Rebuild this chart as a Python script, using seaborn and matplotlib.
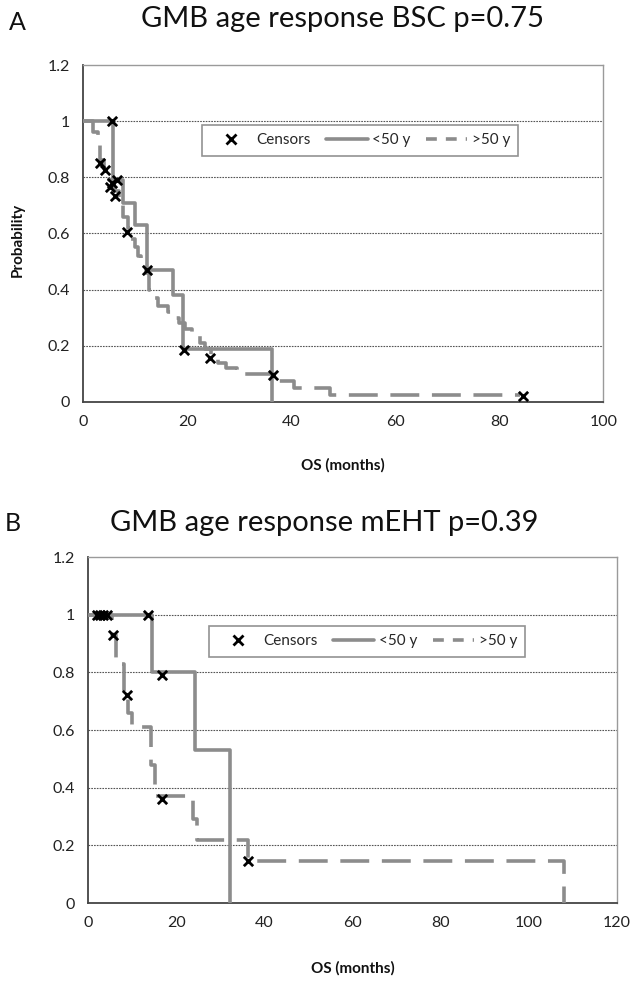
import pandas as pd
import matplotlib
matplotlib.use("Agg")
import matplotlib.pyplot as plt
from matplotlib.lines import Line2D
import seaborn as sns

# Panel A (BSC) - Kaplan-Meier steps
a_lt50_t = [0, 5.8, 7.7, 10.0, 12.3, 17.3, 19.2, 36.3]
a_lt50_p = [1.0, 0.79, 0.71, 0.63, 0.47, 0.38, 0.19, 0.0]

a_gt50_t = [0, 1.9, 2.9, 3.3, 4.0, 5.0, 6.0, 6.9, 7.7, 8.6, 9.2, 10.0, 10.6, 11.2, 12.1,
            12.6, 13.4, 14.4, 16.3, 17.3, 18.4, 19.5, 21.0, 22.5, 23.5, 24.6, 26.0, 27.5,
            29.5, 37.5, 40.5, 47.5, 84.0]
a_gt50_p = [1.0, 0.96, 0.92, 0.86, 0.83, 0.79, 0.75, 0.70, 0.66, 0.62, 0.58, 0.55, 0.52, 0.49, 0.46,
            0.40, 0.37, 0.34, 0.32, 0.30, 0.28, 0.26, 0.24, 0.21, 0.19, 0.16, 0.14, 0.12,
            0.10, 0.075, 0.05, 0.025, 0.025]

a_cens_t = [5.5, 3.3, 4.2, 5.2, 5.5, 6.5, 6.2, 8.4, 12.3, 19.3, 24.4, 36.5, 84.5]
a_cens_p = [1.0, 0.85, 0.825, 0.765, 0.78, 0.79, 0.735, 0.605, 0.47, 0.185, 0.155, 0.095, 0.02]

# Panel B (mEHT)
b_lt50_t = [0, 14.5, 24.3, 32.2]
b_lt50_p = [1.0, 0.80, 0.53, 0.0]

b_gt50_t = [0, 5.4, 6.3, 8.2, 9.1, 10.0, 14.2, 15.2, 23.8, 24.7, 36.2, 108.0]
b_gt50_p = [1.0, 0.93, 0.83, 0.73, 0.66, 0.61, 0.48, 0.37, 0.29, 0.22, 0.145, 0.0]

b_cens_t = [2.0, 2.8, 3.5, 4.3, 13.7, 5.7, 8.8, 16.8, 16.8, 36.3]
b_cens_p = [1.0, 1.0, 1.0, 1.0, 1.0, 0.93, 0.72, 0.79, 0.36, 0.145]

titles = ["GMB age response BSC p=0.75", "GMB age response mEHT p=0.39"]
panel_tags = ["A", "B"]

sns.set_style("white")
plt.rcParams['font.family'] = ['Lato', 'DejaVu Sans']

LINE_C = "#8c8c8c"
DASH = (0, (8, 3.5))

fig = plt.figure(figsize=(6.35, 9.85), dpi=100)
ax_a = fig.add_axes([0.131, 0.592, 0.819, 0.342])
ax_b = fig.add_axes([0.1386, 0.0832, 0.833, 0.3513])


def draw_panel(ax, lt_t, lt_p, gt_t, gt_p, c_t, c_p, xmax):
    df_lt = pd.DataFrame({"t": lt_t, "p": lt_p})
    df_gt = pd.DataFrame({"t": gt_t, "p": gt_p})
    df_c = pd.DataFrame({"t": c_t, "p": c_p})
    sns.lineplot(data=df_gt, x="t", y="p", ax=ax, estimator=None, sort=False,
                 drawstyle="steps-post", color=LINE_C, lw=2.6, linestyle=DASH, zorder=3)
    sns.lineplot(data=df_lt, x="t", y="p", ax=ax, estimator=None, sort=False,
                 drawstyle="steps-post", color=LINE_C, lw=2.6, zorder=3)
    sns.scatterplot(data=df_c, x="t", y="p", ax=ax, marker="x", color="black",
                    s=45, linewidth=2, zorder=4)
    ax.set_xlim(0, xmax)
    ax.set_ylim(0, 1.2)
    ax.set_xticks(range(0, xmax + 1, 20))
    ax.set_yticks([0, 0.2, 0.4, 0.6, 0.8, 1.0, 1.2])
    ax.set_yticklabels(["0", "0.2", "0.4", "0.6", "0.8", "1", "1.2"])
    ax.set_xlabel("")
    ax.set_ylabel("")
    for y in [0.2, 0.4, 0.6, 0.8, 1.0]:
        ax.axhline(y, color="#555555", lw=0.8, ls=(0, (1.5, 1)), zorder=1)
    for s in ["left", "bottom"]:
        ax.spines[s].set_color("#444444")
        ax.spines[s].set_linewidth(1.3)
    for s in ["top", "right"]:
        ax.spines[s].set_color("#9a9a9a")
        ax.spines[s].set_linewidth(1.0)
    ax.tick_params(direction="inout", length=7, width=1, color="#444444",
                   labelsize=11.5, labelcolor="#222222", pad=6)
    handles = [
        Line2D([], [], ls="none", marker="x", color="black", markersize=7, mew=2),
        Line2D([], [], color=LINE_C, lw=2.6),
        Line2D([], [], color=LINE_C, lw=2.6, ls=(0, (3, 2.5))),
    ]
    return handles


h = draw_panel(ax_a, a_lt50_t, a_lt50_p, a_gt50_t, a_gt50_p, a_cens_t, a_cens_p, 100)
leg = ax_a.legend(h, ["Censors", "<50 y", ">50 y"], ncol=3, loc="center",
                  bbox_to_anchor=(0.533, 0.776), frameon=True, fancybox=False,
                  edgecolor="#777777", fontsize=11, handlelength=2.7,
                  handletextpad=0.3, columnspacing=1.0, borderpad=0.55)
leg.get_frame().set_linewidth(1.2)

h = draw_panel(ax_b, b_lt50_t, b_lt50_p, b_gt50_t, b_gt50_p, b_cens_t, b_cens_p, 120)
leg = ax_b.legend(h, ["Censors", "<50 y", ">50 y"], ncol=3, loc="center",
                  bbox_to_anchor=(0.528, 0.757), frameon=True, fancybox=False,
                  edgecolor="#777777", fontsize=11, handlelength=2.7,
                  handletextpad=0.3, columnspacing=1.0, borderpad=0.55)
leg.get_frame().set_linewidth(1.2)

fig.text(0.54, 0.981, titles[0], ha="center", va="center", fontsize=21, color="#111111")
fig.text(0.51, 0.469, titles[1], ha="center", va="center", fontsize=21, color="#111111")
fig.text(0.027, 0.977, panel_tags[0], ha="center", va="center", fontsize=18, color="#111111")
fig.text(0.02, 0.469, panel_tags[1], ha="center", va="center", fontsize=18, color="#111111")

fig.text(0.028, 0.756, "Probability", rotation=90, ha="center", va="center",
         fontsize=11, fontweight="bold", color="#111111")
fig.text(0.54, 0.528, "OS (months)", ha="center", va="center",
         fontsize=11, fontweight="bold", color="#111111")
fig.text(0.555, 0.017, "OS (months)", ha="center", va="center",
         fontsize=11, fontweight="bold", color="#111111")

fig.savefig("out.png", dpi=100, facecolor="white")
